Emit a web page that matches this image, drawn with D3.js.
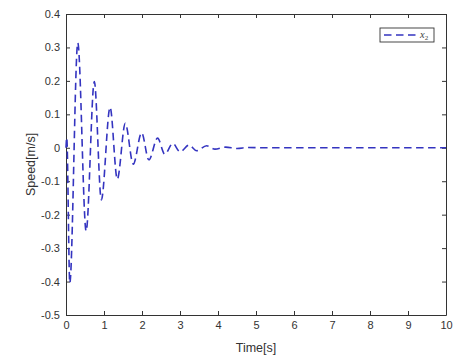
<!DOCTYPE html>
<html>
<head>
<meta charset="utf-8">
<script src="https://cdn.jsdelivr.net/npm/d3@7"></script>
<style>
  body { margin: 0; background: #fff; }
  .axis text { font-family: "Liberation Sans", Arial, sans-serif; font-size: 11px; fill: #333; }
  .axis path, .axis line { stroke: #333; }
</style>
</head>
<body>
<div id="chart-area"></div>
<script>
// data
const timeS = [0, 0.02, 0.1, 0.31, 0.53, 0.745, 0.93, 1.16, 1.35, 1.56, 1.77, 1.99, 2.18, 2.41, 2.6, 2.81,
  3.0, 3.24, 3.44, 3.7, 3.92, 4.2, 4.5, 4.8, 5.2, 6, 7, 8, 9, 10]
const speed = [0, 0.03, -0.404, 0.314, -0.249, 0.198, -0.156, 0.121, -0.094, 0.073, -0.049, 0.045, -0.036, 0.029, -0.019, 0.013,
  -0.012, 0.008, -0.009, 0.006, -0.004, 0.002, -0.002, 0.001, 0, 0, 0, 0, 0, 0]
const xTicks = [0, 1, 2, 3, 4, 5, 6, 7, 8, 9, 10]
const yTicks = [-0.5, -0.4, -0.3, -0.2, -0.1, 0, 0.1, 0.2, 0.3, 0.4]
const seriesName = "x"
const seriesSub = "2"

const MARGIN = { LEFT: 66, RIGHT: 14, TOP: 14, BOTTOM: 42 }
const WIDTH = 460 - MARGIN.LEFT - MARGIN.RIGHT
const HEIGHT = 357 - MARGIN.TOP - MARGIN.BOTTOM

const svg = d3.select("#chart-area").append("svg")
    .attr("width", 460)
    .attr("height", 357)

const g = svg.append("g")
    .attr("transform", `translate(${MARGIN.LEFT}, ${MARGIN.TOP})`)

// scales
const x = d3.scaleLinear().domain([0, 10]).range([0, WIDTH])
const y = d3.scaleLinear().domain([-0.5, 0.4]).range([HEIGHT, 0])

const fmt = d => String(Math.round(d * 10) / 10)

// axes, ticks pointing inward like matlab
g.append("g").attr("class", "axis")
    .attr("transform", `translate(0, ${HEIGHT})`)
    .call(d3.axisBottom(x).tickValues(xTicks).tickFormat(fmt).tickSizeInner(-4).tickSizeOuter(0).tickPadding(6))
g.append("g").attr("class", "axis")
    .call(d3.axisLeft(y).tickValues(yTicks).tickFormat(fmt).tickSizeInner(-4).tickSizeOuter(0).tickPadding(6))
g.append("g").attr("class", "axis")
    .call(d3.axisTop(x).tickValues(xTicks).tickFormat("").tickSizeInner(-4).tickSizeOuter(0))
g.append("g").attr("class", "axis")
    .attr("transform", `translate(${WIDTH}, 0)`)
    .call(d3.axisRight(y).tickValues(yTicks).tickFormat("").tickSizeInner(-4).tickSizeOuter(0))

// axis labels
g.append("text")
    .attr("x", WIDTH / 2)
    .attr("y", HEIGHT + 37)
    .attr("text-anchor", "middle")
    .attr("font-family", "Liberation Sans, Arial, sans-serif")
    .attr("font-size", "12.5px")
    .attr("fill", "#333")
    .text("Time[s]")
g.append("text")
    .attr("transform", "rotate(-90)")
    .attr("x", -HEIGHT / 2)
    .attr("y", -31)
    .attr("text-anchor", "middle")
    .attr("font-family", "Liberation Sans, Arial, sans-serif")
    .attr("font-size", "12.5px")
    .attr("fill", "#333")
    .text("Speed[m/s]")

// the line
const line = d3.line()
    .x((d, i) => x(timeS[i]))
    .y(d => y(d))
    .curve(d3.curveMonotoneX)

g.append("path")
    .attr("fill", "none")
    .attr("stroke", "#3434c0")
    .attr("stroke-width", 1.6)
    .attr("stroke-dasharray", "7.5,4.5")
    .attr("d", line(speed))

// legend
const leg = g.append("g").attr("transform", `translate(${WIDTH - 66}, 14)`)
leg.append("rect")
    .attr("width", 54).attr("height", 14)
    .attr("fill", "#fff").attr("stroke", "#333").attr("stroke-width", 0.9)
leg.append("line")
    .attr("x1", 4).attr("x2", 39).attr("y1", 7).attr("y2", 7)
    .attr("stroke", "#3434c0").attr("stroke-width", 1.6).attr("stroke-dasharray", "7.5,4.5")
const lt = leg.append("text")
    .attr("x", 40).attr("y", 10)
    .attr("font-family", "Liberation Serif, DejaVu Serif, serif")
    .attr("font-size", "10.5px")
    .attr("fill", "#444")
lt.append("tspan").attr("font-style", "italic").text(seriesName)
lt.append("tspan").attr("font-size", "7px").attr("dy", 2).text(seriesSub)
</script>
</body>
</html>
